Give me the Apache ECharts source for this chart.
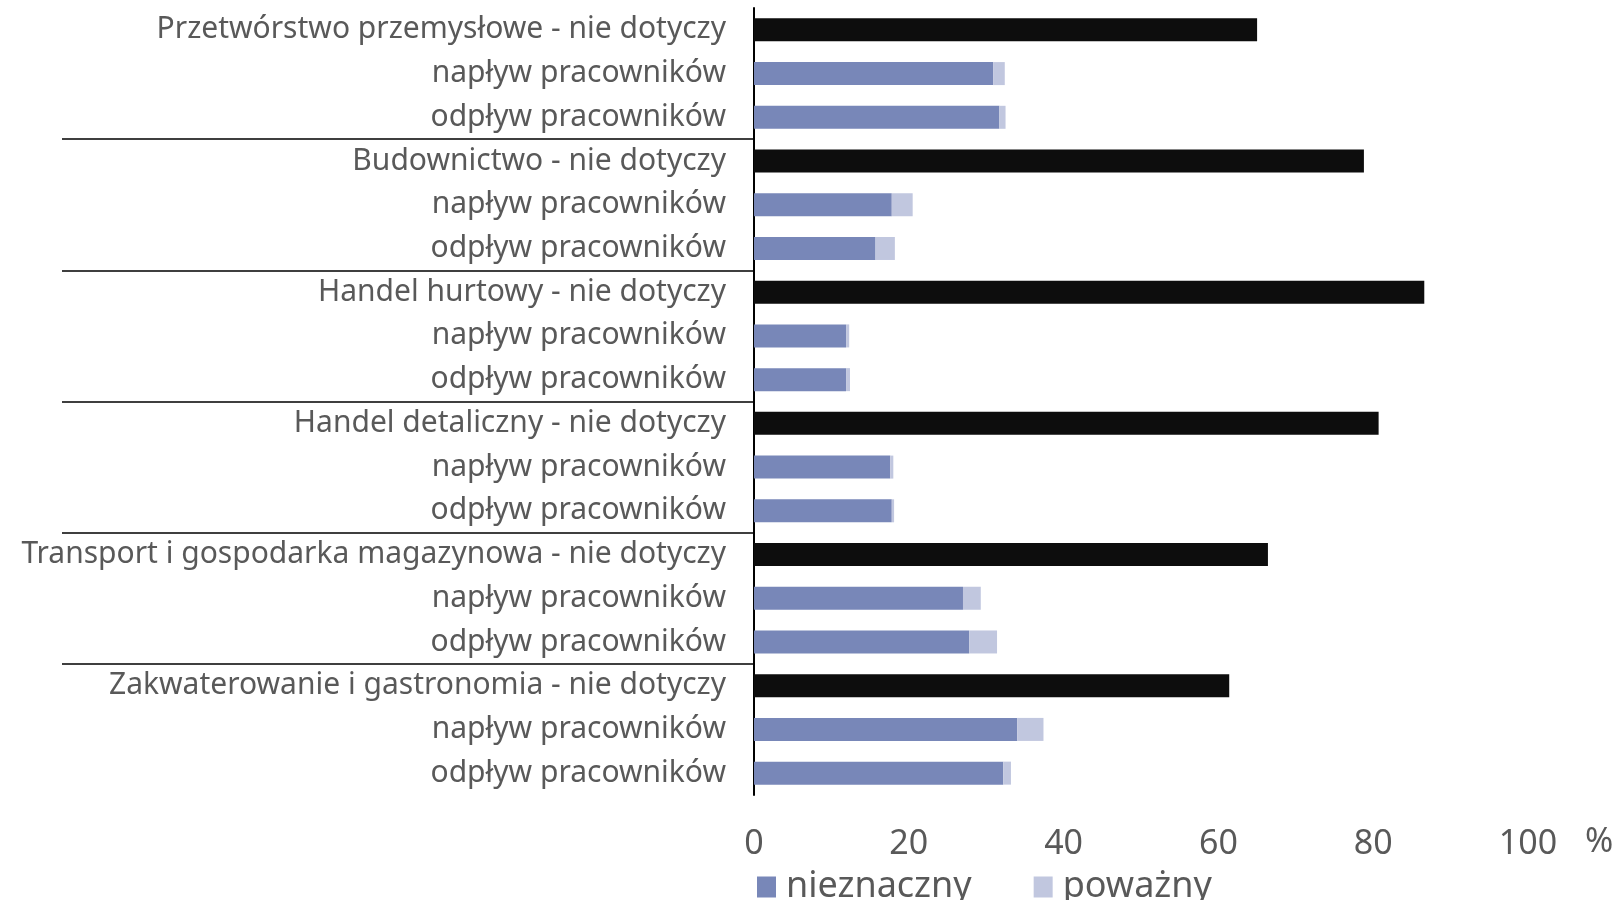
<!DOCTYPE html>
<html><head><meta charset="utf-8">
<script src="https://cdn.jsdelivr.net/npm/echarts@6/dist/echarts.min.js"></script>
<style>html,body{margin:0;padding:0;background:#fff}#c{width:1618px;height:900px}</style>
</head><body><div id="c"></div>
<script>
const categories = [
  'Przetwórstwo przemysłowe - nie dotyczy','napływ pracowników','odpływ pracowników',
  'Budownictwo - nie dotyczy','napływ pracowników','odpływ pracowników',
  'Handel hurtowy - nie dotyczy','napływ pracowników','odpływ pracowników',
  'Handel detaliczny - nie dotyczy','napływ pracowników','odpływ pracowników',
  'Transport i gospodarka magazynowa - nie dotyczy','napływ pracowników','odpływ pracowników',
  'Zakwaterowanie i gastronomia - nie dotyczy','napływ pracowników','odpływ pracowników'
];
const nieDotyczy = [65.0,'-','-', 78.8,'-','-', 86.6,'-','-', 80.7,'-','-', 66.4,'-','-', 61.4,'-','-'];
const nieznaczny = ['-',30.9,31.7, '-',17.8,15.7, '-',11.9,11.9, '-',17.6,17.8, '-',27.0,27.8, '-',34.0,32.2];
const powazny    = ['-',1.5,0.8, '-',2.7,2.5, '-',0.4,0.5, '-',0.4,0.3, '-',2.3,3.6, '-',3.4,1.0];
const xTicks = [0,20,40,60,80,100];
const groupBoundaries = [3,6,9,12,15];

const FONT = 'Noto Sans';
const chart = echarts.init(document.getElementById('c'));
chart.setOption({
  animation:false,
  textStyle:{fontFamily:FONT},
  grid:{left:754,right:90,top:8,bottom:105,containLabel:false},
  legend:{
    data:['nieznaczny','poważny'],
    left:752, top:864, itemWidth:19, itemHeight:21, itemGap:62,
    icon:'rect',
    textStyle:{fontSize:36,color:'#595959',fontFamily:FONT,padding:[0,0,0,5]}
  },
  xAxis:{
    type:'value', min:xTicks[0], max:xTicks[xTicks.length-1], interval:20,
    axisLine:{show:false,onZero:false}, axisTick:{show:false}, splitLine:{show:false},
    axisLabel:{fontSize:34,color:'#595959',margin:32},
    name:'%', nameLocation:'end', nameGap:57,
    nameTextStyle:{fontSize:34,color:'#595959',verticalAlign:'top',padding:[30,0,0,0]}
  },
  yAxis:[{
    type:'category', data:categories, inverse:true,
    axisLine:{show:true,onZero:false,lineStyle:{color:'#000',width:2}},
    axisTick:{show:false},
    axisLabel:{fontSize:30,color:'#595959',margin:28,interval:0}
  },{
    type:'value', min:0, max:categories.length, interval:3, inverse:true, position:'left',
    axisLine:{show:false,onZero:false}, axisLabel:{show:false}, splitLine:{show:false},
    axisTick:{show:true,length:692,customValues:groupBoundaries,lineStyle:{color:'#000',width:1.5}}
  }],
  series:[
    {name:'nie dotyczy',type:'bar',stack:'s',data:nieDotyczy,barWidth:23,itemStyle:{color:'#0d0d0d'}},
    {name:'nieznaczny',type:'bar',stack:'s',data:nieznaczny,barWidth:23,itemStyle:{color:'#7887b8'}},
    {name:'poważny',type:'bar',stack:'s',data:powazny,barWidth:23,itemStyle:{color:'#c1c7df'}}
  ]
});
</script></body></html>
